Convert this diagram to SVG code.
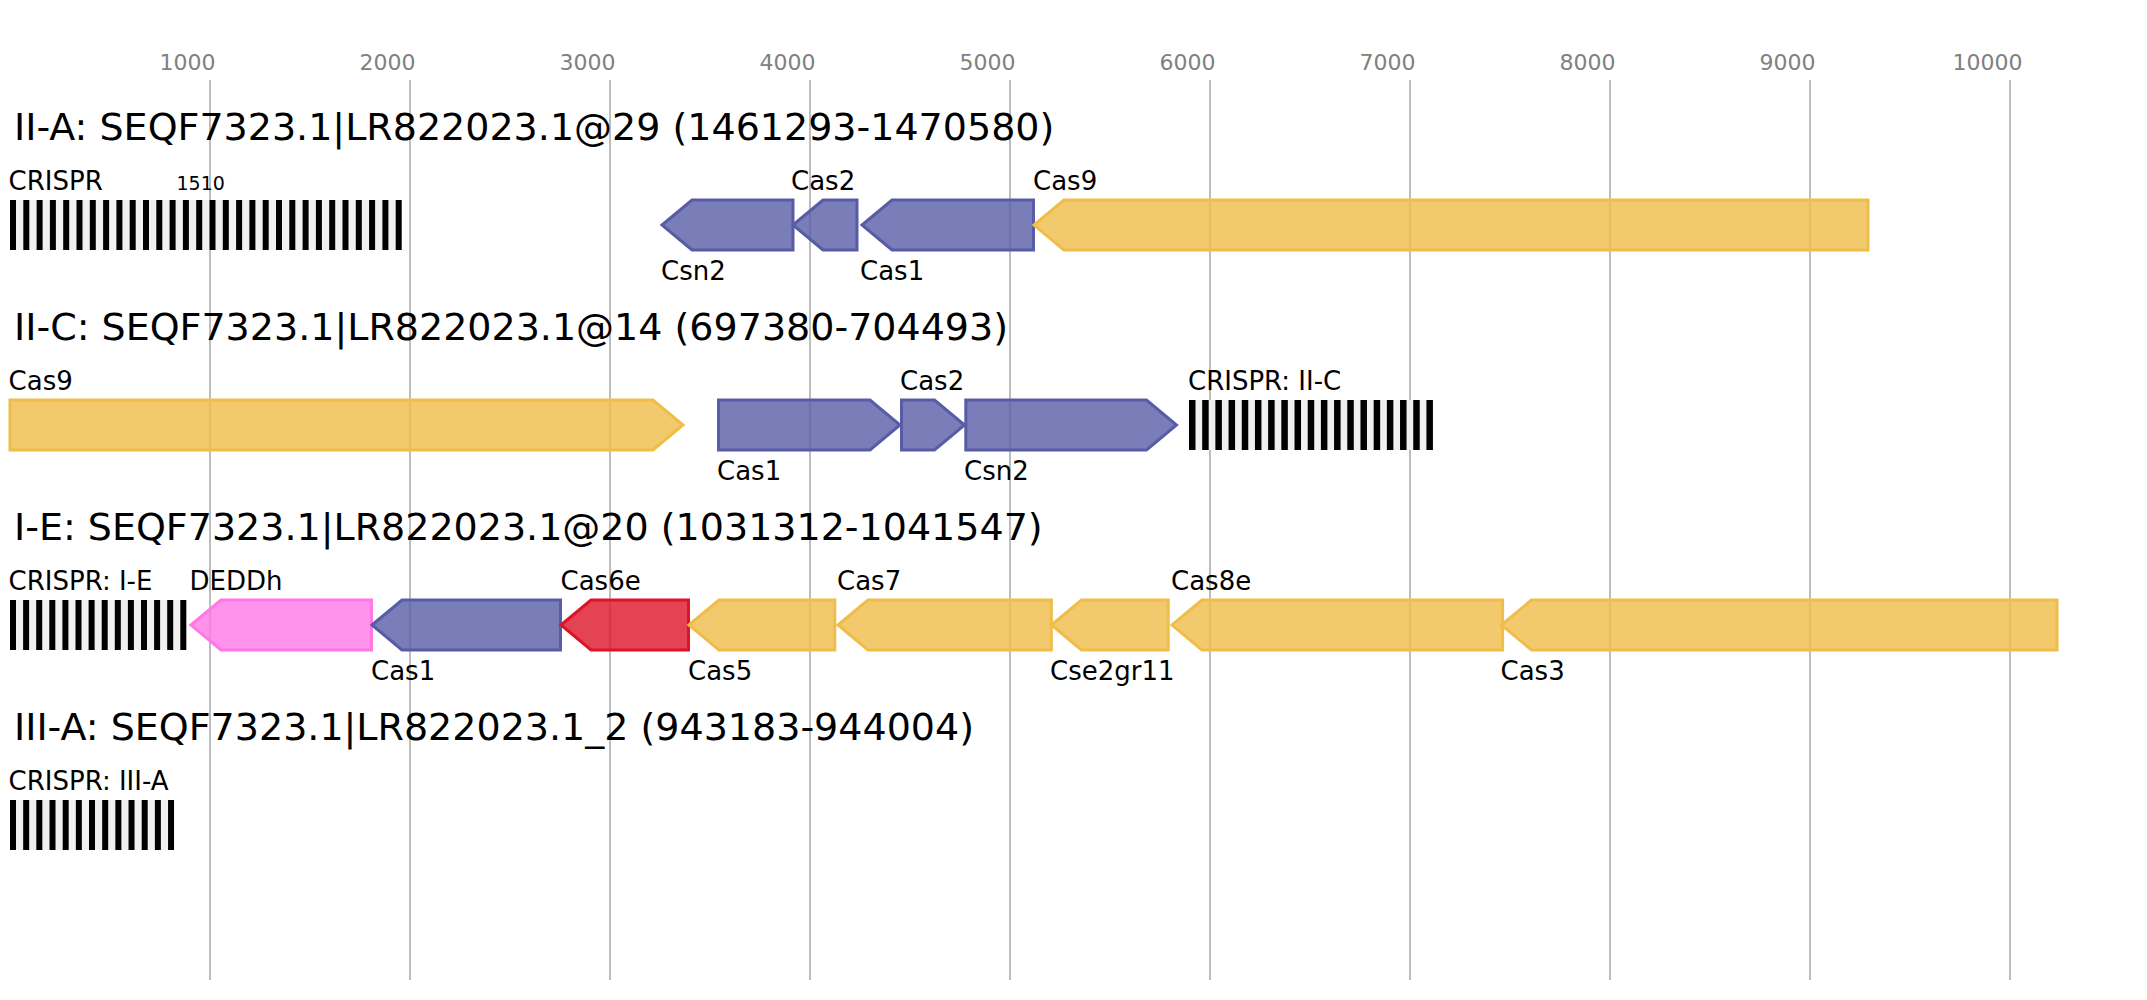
<svg xmlns="http://www.w3.org/2000/svg" width="2147" height="1000" viewBox="0 0 2147 1000">
<style>
.tick{stroke:#bdbdbd;stroke-width:2}
.tl{font-family:"DejaVu Sans",sans-serif;font-size:22px;fill:#808080;text-anchor:middle}
.title{font-family:"DejaVu Sans",sans-serif;font-size:38px;fill:#000}
.lab{font-family:"DejaVu Sans",sans-serif;font-size:26px;fill:#000}
.small{font-family:"DejaVu Sans",sans-serif;font-size:19px;fill:#000}
.bg{fill:#f0f0f0}
.rep{fill:#000}
.gene{stroke-width:3;fill-opacity:0.8}
.gold{fill:#efbd48;stroke:#efbd48}
.purple{fill:#585ca6;stroke:#585ca6}
.red{fill:#dc1428;stroke:#dc1428}
.pink{fill:#ff78e6;stroke:#ff78e6}
</style>
<rect width="2147" height="1000" fill="#fff"/>
<g id="axis">
<line class="tick" x1="210" y1="80" x2="210" y2="980"/>
<line class="tick" x1="410" y1="80" x2="410" y2="980"/>
<line class="tick" x1="610" y1="80" x2="610" y2="980"/>
<line class="tick" x1="810" y1="80" x2="810" y2="980"/>
<line class="tick" x1="1010" y1="80" x2="1010" y2="980"/>
<line class="tick" x1="1210" y1="80" x2="1210" y2="980"/>
<line class="tick" x1="1410" y1="80" x2="1410" y2="980"/>
<line class="tick" x1="1610" y1="80" x2="1610" y2="980"/>
<line class="tick" x1="1810" y1="80" x2="1810" y2="980"/>
<line class="tick" x1="2010" y1="80" x2="2010" y2="980"/>
<text class="tl" x="187.5" y="70">1000</text>
<text class="tl" x="387.5" y="70">2000</text>
<text class="tl" x="587.5" y="70">3000</text>
<text class="tl" x="787.5" y="70">4000</text>
<text class="tl" x="987.5" y="70">5000</text>
<text class="tl" x="1187.5" y="70">6000</text>
<text class="tl" x="1387.5" y="70">7000</text>
<text class="tl" x="1587.5" y="70">8000</text>
<text class="tl" x="1787.5" y="70">9000</text>
<text class="tl" x="1987.5" y="70">10000</text>
</g>
<g id="titles">
<text class="title" x="14" y="140">II-A: SEQF7323.1|LR822023.1@29 (1461293-1470580)</text>
<text class="title" x="14" y="340">II-C: SEQF7323.1|LR822023.1@14 (697380-704493)</text>
<text class="title" x="14" y="540">I-E: SEQF7323.1|LR822023.1@20 (1031312-1041547)</text>
<text class="title" x="14" y="740">III-A: SEQF7323.1|LR822023.1_2 (943183-944004)</text>
</g>
<g id="connectors"></g>
<g id="IIA-crispr">
<rect class="bg" x="10" y="200" width="391.7" height="50"/>
<rect class="rep" x="10" y="200" width="6" height="50"/><rect class="rep" x="23.3" y="200" width="6" height="50"/><rect class="rep" x="36.6" y="200" width="6" height="50"/><rect class="rep" x="49.9" y="200" width="6" height="50"/><rect class="rep" x="63.2" y="200" width="6" height="50"/><rect class="rep" x="76.5" y="200" width="6" height="50"/><rect class="rep" x="89.8" y="200" width="6" height="50"/><rect class="rep" x="103.1" y="200" width="6" height="50"/><rect class="rep" x="116.4" y="200" width="6" height="50"/><rect class="rep" x="129.7" y="200" width="6" height="50"/><rect class="rep" x="143" y="200" width="6" height="50"/><rect class="rep" x="156.3" y="200" width="6" height="50"/><rect class="rep" x="169.6" y="200" width="6" height="50"/><rect class="rep" x="182.9" y="200" width="6" height="50"/><rect class="rep" x="196.2" y="200" width="6" height="50"/><rect class="rep" x="209.5" y="200" width="6" height="50"/><rect class="rep" x="222.8" y="200" width="6" height="50"/><rect class="rep" x="236.1" y="200" width="6" height="50"/><rect class="rep" x="249.4" y="200" width="6" height="50"/><rect class="rep" x="262.7" y="200" width="6" height="50"/><rect class="rep" x="276" y="200" width="6" height="50"/><rect class="rep" x="289.3" y="200" width="6" height="50"/><rect class="rep" x="302.6" y="200" width="6" height="50"/><rect class="rep" x="315.9" y="200" width="6" height="50"/><rect class="rep" x="329.2" y="200" width="6" height="50"/><rect class="rep" x="342.5" y="200" width="6" height="50"/><rect class="rep" x="355.8" y="200" width="6" height="50"/><rect class="rep" x="369.1" y="200" width="6" height="50"/><rect class="rep" x="382.4" y="200" width="6" height="50"/><rect class="rep" x="395.7" y="200" width="6" height="50"/>
<text class="lab" x="8.6" y="190">CRISPR</text>
<text class="small" x="176.5" y="190">1510</text>
</g>
<g id="IIA-Csn2"><path class="gene purple" d="M662,225 L692,200 L793,200 L793,250 L692,250 Z"/><text class="lab" x="661" y="280">Csn2</text></g>
<g id="IIA-Cas2"><path class="gene purple" d="M793,225 L823,200 L857,200 L857,250 L823,250 Z"/><text class="lab" x="791" y="190">Cas2</text></g>
<g id="IIA-Cas1"><path class="gene purple" d="M862,225 L892,200 L1033.5,200 L1033.5,250 L892,250 Z"/><text class="lab" x="860" y="280">Cas1</text></g>
<g id="IIA-Cas9"><path class="gene gold" d="M1034,225 L1064,200 L1868,200 L1868,250 L1064,250 Z"/><text class="lab" x="1033" y="190">Cas9</text></g>

<g id="IIC-Cas9"><path class="gene gold" d="M10,400 L653,400 L683,425 L653,450 L10,450 Z"/><text class="lab" x="8.6" y="390">Cas9</text></g>
<g id="IIC-Cas1"><path class="gene purple" d="M718.5,400 L870,400 L900,425 L870,450 L718.5,450 Z"/><text class="lab" x="717" y="480">Cas1</text></g>
<g id="IIC-Cas2"><path class="gene purple" d="M901.5,400 L934.5,400 L964.5,425 L934.5,450 L901.5,450 Z"/><text class="lab" x="900" y="390">Cas2</text></g>
<g id="IIC-Csn2"><path class="gene purple" d="M965.8,400 L1146.5,400 L1176.5,425 L1146.5,450 L965.8,450 Z"/><text class="lab" x="964" y="480">Csn2</text></g>
<g id="IIC-crispr">
<rect class="bg" x="1189" y="400" width="243.9" height="50"/>
<rect class="rep" x="1189" y="400" width="6.5" height="50"/><rect class="rep" x="1202.19" y="400" width="6.5" height="50"/><rect class="rep" x="1215.38" y="400" width="6.5" height="50"/><rect class="rep" x="1228.57" y="400" width="6.5" height="50"/><rect class="rep" x="1241.76" y="400" width="6.5" height="50"/><rect class="rep" x="1254.95" y="400" width="6.5" height="50"/><rect class="rep" x="1268.14" y="400" width="6.5" height="50"/><rect class="rep" x="1281.33" y="400" width="6.5" height="50"/><rect class="rep" x="1294.52" y="400" width="6.5" height="50"/><rect class="rep" x="1307.71" y="400" width="6.5" height="50"/><rect class="rep" x="1320.9" y="400" width="6.5" height="50"/><rect class="rep" x="1334.09" y="400" width="6.5" height="50"/><rect class="rep" x="1347.28" y="400" width="6.5" height="50"/><rect class="rep" x="1360.47" y="400" width="6.5" height="50"/><rect class="rep" x="1373.66" y="400" width="6.5" height="50"/><rect class="rep" x="1386.85" y="400" width="6.5" height="50"/><rect class="rep" x="1400.04" y="400" width="6.5" height="50"/><rect class="rep" x="1413.23" y="400" width="6.5" height="50"/><rect class="rep" x="1426.42" y="400" width="6.5" height="50"/>
<text class="lab" x="1188" y="390">CRISPR: II-C</text>
</g>

<g id="IE-crispr">
<rect class="bg" x="10" y="600" width="176.3" height="50"/>
<rect class="rep" x="10" y="600" width="6" height="50"/><rect class="rep" x="23.1" y="600" width="6" height="50"/><rect class="rep" x="36.2" y="600" width="6" height="50"/><rect class="rep" x="49.3" y="600" width="6" height="50"/><rect class="rep" x="62.4" y="600" width="6" height="50"/><rect class="rep" x="75.5" y="600" width="6" height="50"/><rect class="rep" x="88.6" y="600" width="6" height="50"/><rect class="rep" x="101.7" y="600" width="6" height="50"/><rect class="rep" x="114.8" y="600" width="6" height="50"/><rect class="rep" x="127.9" y="600" width="6" height="50"/><rect class="rep" x="141" y="600" width="6" height="50"/><rect class="rep" x="154.1" y="600" width="6" height="50"/><rect class="rep" x="167.2" y="600" width="6" height="50"/><rect class="rep" x="180.3" y="600" width="6" height="50"/>
<text class="lab" x="8.6" y="590">CRISPR: I-E</text>
</g>
<g id="IE-DEDDh"><path class="gene pink" d="M191,625 L221,600 L371.5,600 L371.5,650 L221,650 Z"/><text class="lab" x="189.5" y="590">DEDDh</text></g>
<g id="IE-Cas1"><path class="gene purple" d="M372,625 L402,600 L560.5,600 L560.5,650 L402,650 Z"/><text class="lab" x="371" y="680">Cas1</text></g>
<g id="IE-Cas6e"><path class="gene red" d="M561,625 L591,600 L688.5,600 L688.5,650 L591,650 Z"/><text class="lab" x="560.5" y="590">Cas6e</text></g>
<g id="IE-Cas5"><path class="gene gold" d="M689,625 L719,600 L834.8,600 L834.8,650 L719,650 Z"/><text class="lab" x="688" y="680">Cas5</text></g>
<g id="IE-Cas7"><path class="gene gold" d="M838,625 L868,600 L1051.3,600 L1051.3,650 L868,650 Z"/><text class="lab" x="837" y="590">Cas7</text></g>
<g id="IE-Cse2gr11"><path class="gene gold" d="M1051.5,625 L1081.5,600 L1168.2,600 L1168.2,650 L1081.5,650 Z"/><text class="lab" x="1050" y="680">Cse2gr11</text></g>
<g id="IE-Cas8e"><path class="gene gold" d="M1172,625 L1202,600 L1502.6,600 L1502.6,650 L1202,650 Z"/><text class="lab" x="1171" y="590">Cas8e</text></g>
<g id="IE-Cas3"><path class="gene gold" d="M1501.5,625 L1531.5,600 L2057,600 L2057,650 L1531.5,650 Z"/><text class="lab" x="1500.5" y="680">Cas3</text></g>

<g id="IIIA-crispr">
<rect class="bg" x="10" y="800" width="164" height="50"/>
<rect class="rep" x="10" y="800" width="6" height="50"/><rect class="rep" x="23.17" y="800" width="6" height="50"/><rect class="rep" x="36.34" y="800" width="6" height="50"/><rect class="rep" x="49.51" y="800" width="6" height="50"/><rect class="rep" x="62.68" y="800" width="6" height="50"/><rect class="rep" x="75.85" y="800" width="6" height="50"/><rect class="rep" x="89.02" y="800" width="6" height="50"/><rect class="rep" x="102.19" y="800" width="6" height="50"/><rect class="rep" x="115.36" y="800" width="6" height="50"/><rect class="rep" x="128.53" y="800" width="6" height="50"/><rect class="rep" x="141.7" y="800" width="6" height="50"/><rect class="rep" x="154.87" y="800" width="6" height="50"/><rect class="rep" x="168.04" y="800" width="6" height="50"/>
<text class="lab" x="8.6" y="790">CRISPR: III-A</text>
</g>
</svg>
